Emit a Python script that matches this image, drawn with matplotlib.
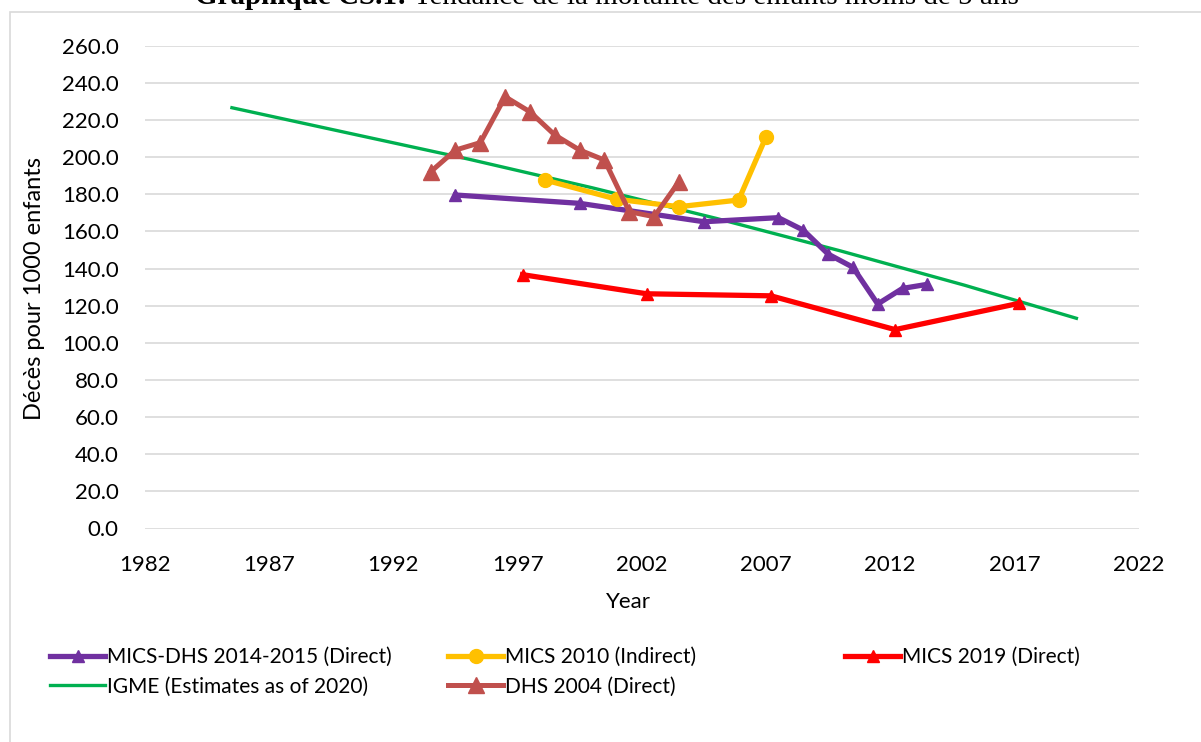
import numpy as np
import matplotlib
matplotlib.use('Agg')
import matplotlib.pyplot as plt
from matplotlib.lines import Line2D
from matplotlib.patches import Rectangle

# Data
mics_dhs_years = [1994.5, 1999.5, 2004.5, 2007.5, 2008.5, 2009.5, 2010.5, 2011.5, 2012.5, 2013.5]
mics_dhs_vals = [179.6, 175.1, 165.2, 167.4, 160.7, 147.8, 140.7, 120.9, 129.3, 131.5]

mics2010_years = [1998.1, 2001.0, 2003.5, 2005.9, 2007.0]
mics2010_vals = [187.7, 177.3, 173.3, 176.9, 210.8]

mics2019_years = [1997.2, 2002.2, 2007.2, 2012.2, 2017.2]
mics2019_vals = [136.7, 126.4, 125.3, 107.1, 121.3]

igme_years = [1985.5, 1990.0, 1995.0, 2000.0, 2005.0, 2010.0, 2015.0, 2019.5]
igme_vals = [226.6, 213.5, 199.0, 183.5, 167.0, 149.5, 131.0, 113.2]

dhs2004_years = [1993.5, 1994.5, 1995.5, 1996.5, 1997.5, 1998.5, 1999.5, 2000.5, 2001.5, 2002.5, 2003.5]
dhs2004_vals = [192.1, 203.8, 207.8, 232.5, 224.4, 211.9, 203.8, 198.4, 170.6, 167.9, 186.8]

x_ticks = list(range(1982, 2023, 5))
y_ticks = list(range(0, 261, 20))

PURPLE = '#7030A0'
YELLOW = '#FFC000'
RED = '#FF0000'
GREEN = '#00B050'
BROWN = '#C0504D'
GRID = '#D9D9D9'

W, H = 1201, 742
plt.rcParams['font.family'] = ['Lato', 'DejaVu Sans']

fig = plt.figure(figsize=(W / 100, H / 100), dpi=100)

# chart area border (only left and top edges visible)
fig.patches.append(Rectangle((9.5 / W, -0.1), 1.2, (H - 12) / H + 0.1,
                             transform=fig.transFigure, fill=False,
                             edgecolor=GRID, linewidth=1.2))

left, right, top, bottom = 145, 1138.5, 45.7, 528.5
ax = fig.add_axes([left / W, (H - bottom) / H, (right - left) / W, (bottom - top) / H])

ax.plot(igme_years, igme_vals, color=GREEN, lw=2.4, zorder=3)
ax.plot(mics_dhs_years, mics_dhs_vals, color=PURPLE, lw=3.8, marker='^',
        ms=9, zorder=4)
ax.plot(mics2010_years, mics2010_vals, color=YELLOW, lw=3.8, marker='o',
        ms=10, zorder=4)
ax.plot(mics2019_years, mics2019_vals, color=RED, lw=3.8, marker='^',
        ms=9, zorder=4)
ax.plot(dhs2004_years, dhs2004_vals, color=BROWN, lw=3.6, marker='^',
        ms=12, zorder=5)

ax.set_xlim(1982, 2022)
ax.set_ylim(0, 260)
ax.set_xticks(x_ticks)
ax.set_yticks(y_ticks)
ax.set_yticklabels(['{:.1f}'.format(v) for v in y_ticks])
ax.tick_params(length=0, labelsize=16, colors='black')
ax.tick_params(axis='y', pad=19)
ax.tick_params(axis='x', pad=19)
ax.grid(axis='y', color=GRID, lw=1.2)
ax.set_axisbelow(True)
for s in ax.spines.values():
    s.set_visible(False)

fig.text(628 / W, 1 - 602 / H, 'Year', ha='center', va='center', fontsize=16)
fig.text(35 / W, 1 - 288 / H, 'Décès pour 1000 enfants', ha='center', va='center',
         rotation=90, fontsize=17)

# title, cut off at the top of the image as in the source
t1 = fig.text(195 / W, 1 - 4 / H, 'Graphique CS.1:', ha='left', va='baseline',
              fontsize=21, fontweight='bold', family='Liberation Serif')
ax.annotate(' Tendance de la mortalité des enfants moins de 5 ans',
            xy=(1, 0), xycoords=t1, ha='left', va='bottom', fontsize=21,
            family='Liberation Serif', annotation_clip=False)

# legend, three columns like Excel
def handle(color, lw, marker=None, ms=0):
    return Line2D([], [], color=color, lw=lw, marker=marker, ms=ms)

columns = [
    (50, [(handle(PURPLE, 3.8, '^', 9), 'MICS-DHS 2014-2015 (Direct)'),
          (handle(GREEN, 2.4), 'IGME (Estimates as of 2020)')]),
    (448, [(handle(YELLOW, 3.8, 'o', 10), 'MICS 2010 (Indirect)'),
           (handle(BROWN, 3.6, '^', 12), 'DHS 2004 (Direct)')]),
    (845, [(handle(RED, 3.8, '^', 9), 'MICS 2019 (Direct)')]),
]
for x0, items in columns:
    leg = fig.legend([h for h, _ in items], [l for _, l in items],
                     loc='upper left', bbox_to_anchor=(x0 / W, 1 - 647 / H),
                     frameon=False, fontsize=15, handlelength=2.64,
                     handletextpad=0.1, labelspacing=0.45, borderpad=0,
                     borderaxespad=0)

fig.savefig('out.png', dpi=100)
